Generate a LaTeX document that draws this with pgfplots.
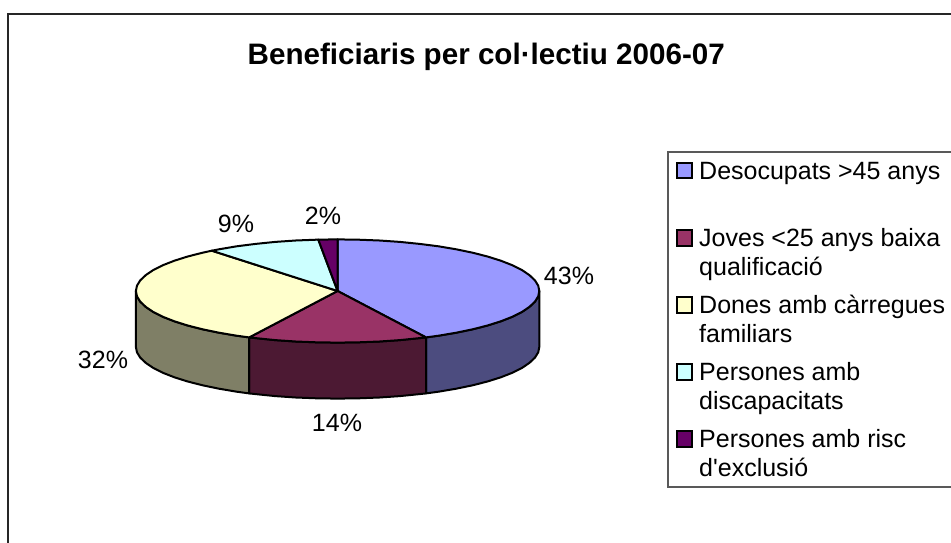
\documentclass[border=0pt]{standalone}
\usepackage{fontspec}
\setmainfont{Liberation Sans}[Ligatures=TeXOff]
\usepackage{pgfplots}
\pgfplotsset{compat=1.18}
\definecolor{cblue}{HTML}{9999FF}
\definecolor{cmaroon}{HTML}{993366}
\definecolor{cyellow}{HTML}{FFFFCC}
\definecolor{ccyan}{HTML}{CCFFFF}
\definecolor{cpurple}{HTML}{660066}
\definecolor{sblue}{HTML}{4C4C7F}
\definecolor{smaroon}{HTML}{4C1933}
\definecolor{syellow}{HTML}{7F7F66}
\tikzset{
  slice/.style={draw=black, line width=2pt, line join=round, mark=none},
  key/.style={only marks, mark=square*, mark size=7.7pt,
    mark options={draw=black, line width=2pt, fill=#1}},
  lab/.style={anchor=base, inner sep=0pt, font=\fontsize{25}{25}\selectfont},
  leg/.style={anchor=base west, inner sep=0pt, font=\fontsize{25}{25}\selectfont},
}
\begin{document}
\begin{tikzpicture}
\clip (0,0) rectangle (951pt,543pt);
\begin{axis}[
  at={(0,0)}, anchor=south west,
  scale only axis, width=951pt, height=543pt,
  xmin=0, xmax=951, ymin=0, ymax=543,
  y dir=reverse, hide axis, clip=false,
]
% outer frame and legend box
\addplot[mark=none, draw=black!85, line width=1.5pt] coordinates {(8,543) (8,14) (951,14)};
\addplot[mark=none, draw=black!65, line width=1.2pt] coordinates {(951,152) (668,152) (668,487) (951,487)};

% sides of the disc
\addplot[slice, fill=sblue] coordinates {
  (539.3,291.0) (538.2,296.4) (534.9,301.7) (529.4,306.9) (521.9,312.0) (512.3,316.8)
  (500.8,321.3) (487.5,325.5) (472.6,329.3) (456.2,332.7) (438.5,335.7) (426.0,337.4)
  (426.0,393.4) (438.5,391.7) (456.2,388.7) (472.6,385.3) (487.5,381.5) (500.8,377.3)
  (512.3,372.8) (521.9,368.0) (529.4,362.9) (534.9,357.7) (538.2,352.4) (539.3,347.0)
} --cycle;
\addplot[slice, fill=smaroon] coordinates {
  (426.0,337.4) (419.6,338.1) (399.9,340.1) (379.5,341.5) (358.7,342.3) (337.6,342.6)
  (316.5,342.3) (295.7,341.5) (275.3,340.1) (255.6,338.1) (249.2,337.4)
  (249.2,393.4) (255.6,394.1) (275.3,396.1) (295.7,397.5) (316.5,398.3) (337.6,398.6)
  (358.7,398.3) (379.5,397.5) (399.9,396.1) (419.6,394.1) (426.0,393.4)
} --cycle;
\addplot[slice, fill=syellow] coordinates {
  (249.2,337.4) (236.7,335.7) (219.0,332.7) (202.6,329.3) (187.7,325.5) (174.4,321.3)
  (162.9,316.8) (153.3,312.0) (145.8,306.9) (140.3,301.7) (137.0,296.4) (135.9,291.0)
  (135.9,347.0) (137.0,352.4) (140.3,357.7) (145.8,362.9) (153.3,368.0) (162.9,372.8)
  (174.4,377.3) (187.7,381.5) (202.6,385.3) (219.0,388.7) (236.7,391.7) (249.2,393.4)
} --cycle;

% top of the disc: 42.8, 14.4, 32.1, 9.2, 1.5 percent
\addplot[slice, fill=cblue] coordinates {
  (337.6,291.0) (337.6,239.4) (358.7,239.7) (379.5,240.5) (399.9,241.9) (419.6,243.9)
  (438.5,246.3) (456.2,249.3) (472.6,252.7) (487.5,256.5) (500.8,260.7) (512.3,265.2)
  (521.9,270.0) (529.4,275.1) (534.9,280.3) (538.2,285.6) (539.3,291.0) (538.2,296.4)
  (534.9,301.7) (529.4,306.9) (521.9,312.0) (512.3,316.8) (500.8,321.3) (487.5,325.5)
  (472.6,329.3) (456.2,332.7) (438.5,335.7) (426.0,337.4)
} --cycle;
\addplot[slice, fill=cmaroon] coordinates {
  (337.6,291.0) (426.0,337.4) (419.6,338.1) (399.9,340.1) (379.5,341.5) (358.7,342.3)
  (337.6,342.6) (316.5,342.3) (295.7,341.5) (275.3,340.1) (255.6,338.1) (249.2,337.4)
} --cycle;
\addplot[slice, fill=cyellow] coordinates {
  (337.6,291.0) (249.2,337.4) (236.7,335.7) (219.0,332.7) (202.6,329.3) (187.7,325.5)
  (174.4,321.3) (162.9,316.8) (153.3,312.0) (145.8,306.9) (140.3,301.7) (137.0,296.4)
  (135.9,291.0) (137.0,285.6) (140.3,280.3) (145.8,275.1) (153.3,270.0) (162.9,265.2)
  (174.4,260.7) (187.7,256.5) (202.6,252.7) (211.8,250.7)
} --cycle;
\addplot[slice, fill=ccyan] coordinates {
  (337.6,291.0) (211.8,250.7) (219.0,249.3) (236.7,246.3) (255.6,243.9) (275.3,241.9)
  (295.7,240.5) (316.5,239.7) (318.3,239.6)
} --cycle;
\addplot[slice, fill=cpurple] coordinates {
  (337.6,291.0) (318.3,239.6) (337.6,239.4)
} --cycle;

% legend keys
\addplot[key=cblue] coordinates {(684.5,170.7)};
\addplot[key=cmaroon] coordinates {(684.5,238)};
\addplot[key=cyellow] coordinates {(684.5,305)};
\addplot[key=ccyan] coordinates {(684.5,372)};
\addplot[key=cpurple] coordinates {(684.5,439)};

\node[anchor=base, inner sep=0pt, font=\fontsize{29.6}{30}\selectfont\bfseries] at (axis cs:486.3,65) {Beneficiaris per col·lectiu 2006-07};

\node[lab] at (axis cs:569,284) {43\%};
\node[lab] at (axis cs:337,431) {14\%};
\node[lab] at (axis cs:103,368) {32\%};
\node[lab] at (axis cs:236,232) {9\%};
\node[lab] at (axis cs:323,224) {2\%};

\node[leg] at (axis cs:699,179.3) {Desocupats >45 anys};
\node[leg] at (axis cs:699,246.7) {Joves <25 anys baixa};
\node[leg] at (axis cs:699,275) {qualificació};
\node[leg] at (axis cs:699,313) {Dones amb càrregues};
\node[leg] at (axis cs:699,342.7) {familiars};
\node[leg] at (axis cs:699,380) {Persones amb};
\node[leg] at (axis cs:699,409) {discapacitats};
\node[leg] at (axis cs:699,447) {Persones amb risc};
\node[leg] at (axis cs:699,476.7) {d'exclusió};
\end{axis}
\end{tikzpicture}
\end{document}
